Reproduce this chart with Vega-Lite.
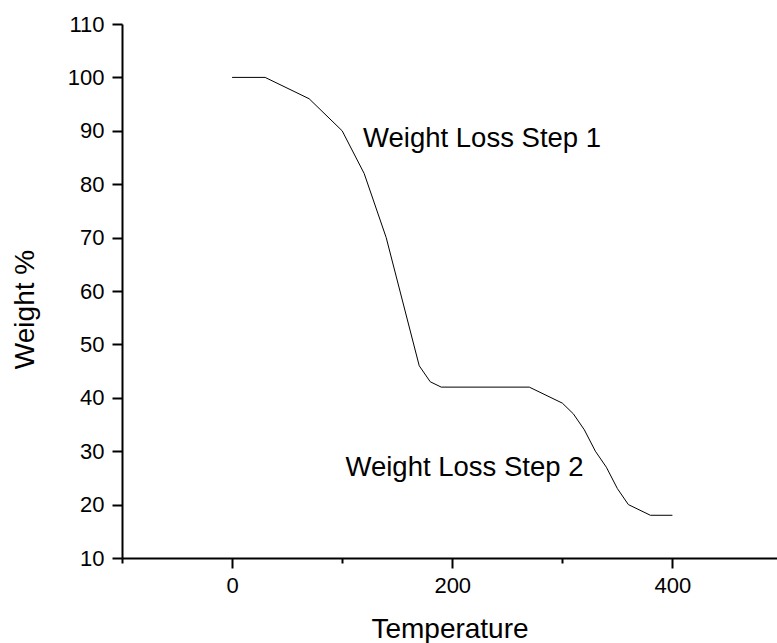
{
  "$schema": "https://vega.github.io/schema/vega-lite/v6.json",
  "width": 655,
  "height": 534,
  "autosize": "none",
  "padding": {"left": 122, "top": 24, "right": 0, "bottom": 85},
  "background": "white",
  "config": {"view": {"stroke": null}, "font": "Liberation Sans"},
  "layer": [
    {
      "data": {"values": [
        {"T": 0, "W": 100}, {"T": 30, "W": 100}, {"T": 70, "W": 96}, {"T": 100, "W": 90},
        {"T": 120, "W": 82}, {"T": 140, "W": 70}, {"T": 170, "W": 46}, {"T": 180, "W": 43},
        {"T": 190, "W": 42}, {"T": 270, "W": 42}, {"T": 300, "W": 39}, {"T": 310, "W": 37},
        {"T": 320, "W": 34}, {"T": 330, "W": 30}, {"T": 340, "W": 27}, {"T": 350, "W": 23},
        {"T": 360, "W": 20}, {"T": 380, "W": 18}, {"T": 400, "W": 18}
      ]},
      "mark": {"type": "line", "color": "black", "strokeWidth": 1},
      "encoding": {
        "x": {
          "field": "T", "type": "quantitative",
          "scale": {"domain": [-100, 495], "nice": false, "zero": false},
          "axis": {
            "title": "Temperature",
            "values": [-100, 0, 100, 200, 300, 400],
            "labelExpr": "datum.value % 200 === 0 ? datum.label : ''",
            "tickSize": {"condition": {"test": "datum.value % 200 === 0", "value": 10}, "value": 5},
            "tickWidth": 2, "tickColor": "black",
            "domainWidth": 2, "domainColor": "black",
            "grid": false,
            "labelFontSize": 22, "labelColor": "black", "labelPadding": 7, "labelFont": "Liberation Sans",
            "titleFontSize": 28, "titleFontWeight": "normal", "titleColor": "black", "titleFont": "Liberation Sans",
            "titleBaseline": "alphabetic", "titleY": 79
          }
        },
        "y": {
          "field": "W", "type": "quantitative",
          "scale": {"domain": [10, 110], "nice": false, "zero": false},
          "axis": {
            "title": "Weight %",
            "values": [10, 15, 20, 25, 30, 35, 40, 45, 50, 55, 60, 65, 70, 75, 80, 85, 90, 95, 100, 105, 110],
            "labelExpr": "datum.value % 10 === 0 ? datum.label : ''",
            "tickSize": {"condition": {"test": "datum.value % 10 === 0", "value": 10}, "value": 5},
            "tickWidth": 2, "tickColor": "black",
            "domainWidth": 2, "domainColor": "black",
            "grid": false,
            "labelFontSize": 22, "labelColor": "black", "labelPadding": 8, "labelFont": "Liberation Sans",
            "titleFontSize": 28, "titleFontWeight": "normal", "titleColor": "black", "titleFont": "Liberation Sans",
            "titleBaseline": "alphabetic", "titleX": -89, "titleY": 285, "titleAngle": 270
          }
        }
      }
    },
    {
      "data": {"values": [
        {"T": 119, "W": 87, "label": "Weight Loss Step 1"},
        {"T": 103, "W": 25.4, "label": "Weight Loss Step 2"}
      ]},
      "mark": {"type": "text", "align": "left", "baseline": "alphabetic", "fontSize": 27.5, "font": "Liberation Sans", "color": "black"},
      "encoding": {
        "x": {"field": "T", "type": "quantitative"},
        "y": {"field": "W", "type": "quantitative"},
        "text": {"field": "label"}
      }
    }
  ]
}
